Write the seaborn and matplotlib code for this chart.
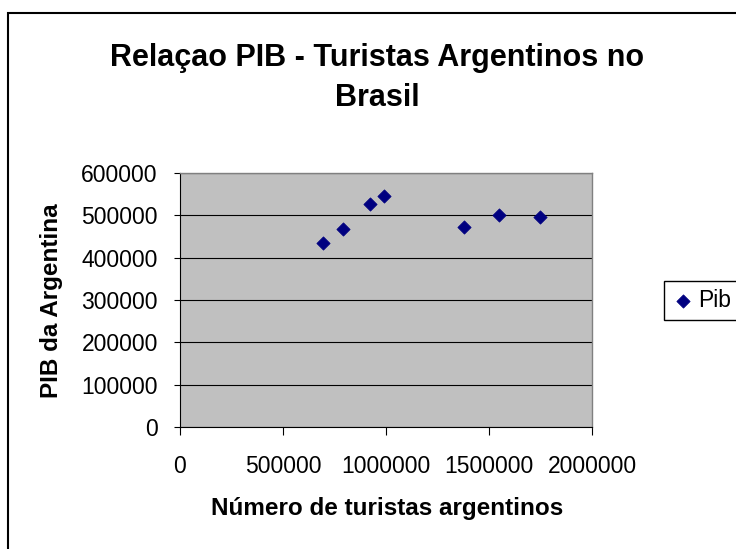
import matplotlib
matplotlib.use("Agg")
import matplotlib.pyplot as plt
from matplotlib.patches import Rectangle
import seaborn as sns
import pandas as pd

# ---- data ----
turistas = [696000, 791000, 924000, 992000, 1377000, 1547000, 1746000]
pib = [435000, 467000, 527000, 546000, 472000, 500000, 495000]
series_label = "Pib"
x_ticks = [0, 500000, 1000000, 1500000, 2000000]
x_tick_labels = ["0", "500000", "1000000", "1500000", "2000000"]
y_ticks = [0, 100000, 200000, 300000, 400000, 500000, 600000]
y_tick_labels = ["0", "100000", "200000", "300000", "400000", "500000", "600000"]
title = "Relaçao PIB - Turistas Argentinos no\nBrasil"
x_label = "Número de turistas argentinos"
y_label = "PIB da Argentina"

df = pd.DataFrame({"turistas": turistas, "pib": pib})

sns.set_theme(style="white")
plt.rcParams["font.family"] = ["Liberation Sans", "DejaVu Sans"]

fig = plt.figure(figsize=(7.36, 5.49), dpi=100)
fig.patch.set_facecolor("white")

# outer chart border (Excel chart area)
fig.patches.append(Rectangle((7.7 / 736, -0.2), 1.5, 1.2 - 13 / 549,
                             transform=fig.transFigure, fill=False,
                             edgecolor="black", linewidth=1.5, zorder=0))

ax = fig.add_axes([180 / 736, 1 - 427 / 549, 412 / 736, 254 / 549])
ax.set_facecolor("#C0C0C0")

sns.scatterplot(data=df, x="turistas", y="pib", marker="D", s=46,
                color="#000080", edgecolor="#000080", linewidth=0.5,
                label=series_label, ax=ax, zorder=3)

ax.set_xlim(0, 2000000)
ax.set_ylim(0, 600000)
ax.set_xticks(x_ticks)
ax.set_xticklabels(x_tick_labels)
ax.set_yticks(y_ticks)
ax.set_yticklabels(y_tick_labels)

ax.yaxis.grid(True, color="black", linewidth=0.8)
ax.xaxis.grid(False)
ax.set_axisbelow(True)

for side in ["left", "bottom"]:
    ax.spines[side].set_color("black")
    ax.spines[side].set_linewidth(0.8)
for side in ["top", "right"]:
    ax.spines[side].set_color("#808080")
    ax.spines[side].set_linewidth(1.0)

ax.tick_params(axis="x", direction="out", length=5.5, width=0.8, color="black",
               pad=14.5, labelsize=16.5, labelcolor="black", bottom=True)
ax.tick_params(axis="y", direction="out", length=4.5, width=0.8, color="black",
               pad=11.5, labelsize=16.5, labelcolor="black", left=True)

ax.set_xlabel(x_label, fontsize=17.5, fontweight="bold", color="black")
ax.set_ylabel(y_label, fontsize=17.5, fontweight="bold", color="black")
ax.xaxis.set_label_coords(0.502, -0.276)
ax.yaxis.set_label_coords(-0.283, 0.496)

fig.text(377.5 / 736, 1 - 42.7 / 549, title, ha="center", va="top",
         fontsize=22, fontweight="bold", color="black", linespacing=1.45)

ax.legend(loc="center left", bbox_to_anchor=(664 / 736, 1 - 300.4 / 549),
          bbox_transform=fig.transFigure, borderaxespad=0, frameon=True,
          fancybox=False, edgecolor="black", framealpha=1, fontsize=16.5,
          handlelength=0.97, handletextpad=0.15, borderpad=0.35,
          labelcolor="black")
ax.get_legend().get_frame().set_linewidth(1.0)

fig.savefig("out.png", dpi=100)
